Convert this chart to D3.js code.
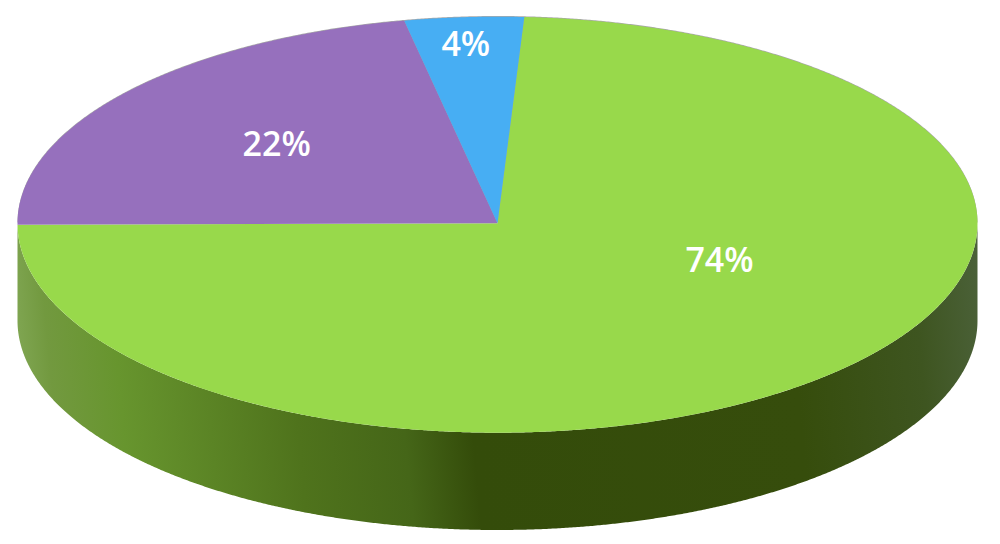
<!DOCTYPE html>
<html>
<head>
<meta charset="utf-8">
<script src="https://cdn.jsdelivr.net/npm/d3@7/dist/d3.min.js"></script>
<style>
html,body{margin:0;padding:0;background:#fff}
svg{display:block}
text{font-family:"Open Sans",sans-serif;font-weight:600;font-size:34px;fill:#fff;text-anchor:middle}
</style>
</head>
<body>
<svg id="chart" width="1000" height="544"></svg>
<script>
// Slice shares, in drawing order clockwise from the start angle
const labels = ["74%", "22%", "4%"];
const values = [74, 22, 4];
const colors = ["#98d94b", "#9670bd", "#47aef3"];

// Wall shading across the width of the disc
const wallOffsets = [0, 0.03, 0.10, 0.28, 0.39, 0.46, 0.80, 0.93, 1];
const wallColors = ["#7fa551", "#72993f", "#67952e", "#4f731c", "#456618", "#344c0a", "#364d0c", "#3e5520", "#4b6139"];

// Label anchors on the unit disc
const labelAnchors = [[0.4625, 0.175], [-0.46, -0.386], [-0.066, -0.87]];

const discLeft = 17.5, discRight = 977.5, discTop = 16.7, discHub = 223.3, discBottom = 432.7, depth = 97.3;
const startAngle = 3.2 * Math.PI / 180;
const step = 0.004;

const svg = d3.select("#chart");
const x = d3.scaleLinear().domain([-1, 1]).range([discLeft, discRight]);
const y = d3.scaleLinear().domain([-1, 0, 1]).range([discTop, discHub, discBottom]);

const pie = d3.pie().sort(null).value(d => d)
  .startAngle(startAngle).endAngle(startAngle + 2 * Math.PI);
const slices = pie(values);

const rimX = t => x(Math.sin(t));
const rimY = t => y(-Math.cos(t));
const sweep = (from, to) => d3.range(from, to, step).concat([to]);

const grad = svg.append("defs").append("linearGradient")
  .attr("id", "wall")
  .attr("gradientUnits", "userSpaceOnUse")
  .attr("x1", discLeft).attr("y1", 330)
  .attr("x2", discRight).attr("y2", 240);
grad.selectAll("stop").data(wallOffsets).join("stop")
  .attr("offset", d => d)
  .attr("stop-color", (d, i) => wallColors[i]);

// Faint rim along the back of the disc
svg.append("path")
  .attr("fill", "#a8a8a8")
  .attr("d", d3.line().x(rimX).y(t => rimY(t) - 0.7)(sweep(-Math.PI / 2, Math.PI / 2)));

// Outer wall: the part of each slice that faces the viewer
const wall = d3.area().x(rimX).y0(rimY).y1(t => rimY(t) + depth);

const walls = slices
  .map(s => ({
    from: Math.max(s.startAngle, Math.PI / 2),
    to: Math.min(s.endAngle, 3 * Math.PI / 2)
  }))
  .filter(w => w.to - w.from > 0.02);

svg.append("g").selectAll("path").data(walls).join("path")
  .attr("fill", "url(#wall)")
  .attr("d", w => wall(sweep(w.from, 3 * Math.PI / 2)));

// Top face: each slice runs from the hub out along the rim
const face = d3.line().x(p => p[0]).y(p => p[1]);
svg.append("g").selectAll("path").data(slices).join("path")
  .attr("fill", (d, i) => colors[i])
  .attr("d", d => face(
    [[x(0), y(0)]].concat(sweep(d.startAngle, d.endAngle).map(t => [rimX(t), rimY(t)]))
  ) + "Z");

svg.append("g").selectAll("text").data(labels).join("text")
  .attr("x", (d, i) => x(labelAnchors[i][0]))
  .attr("y", (d, i) => y(labelAnchors[i][1]))
  .attr("dy", "0.36em")
  .text(d => d);
</script>
</body>
</html>
